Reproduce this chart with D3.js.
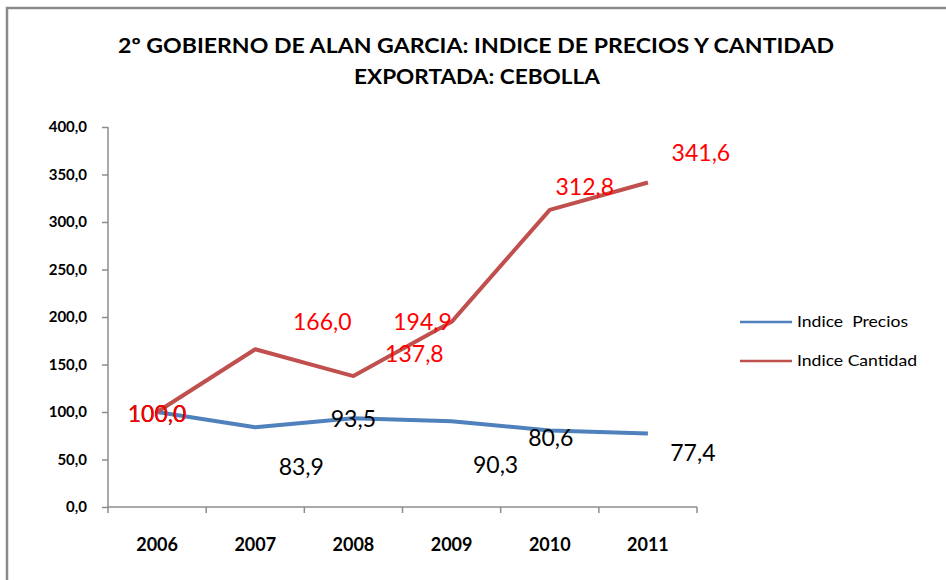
<!DOCTYPE html>
<html>
<head>
  <meta charset="utf-8">
  <script src="https://d3js.org/d3.v7.min.js"></script>
  <style>
    body { margin: 0; background: #fff; }
    svg { display: block; }
  </style>
</head>
<body>
<div id="chart"></div>
<script>

  var years = ['2006', '2007', '2008', '2009', '2010', '2011'];
  var precios = [100.0, 83.9, 93.5, 90.3, 80.6, 77.4];
  var cantidad = [100.0, 166.0, 137.8, 194.9, 312.8, 341.6];
  var yTicks = [0, 50, 100, 150, 200, 250, 300, 350, 400];
  var seriesNames = ['Indice  Precios', 'Indice Cantidad'];

  // where excel dropped the data labels, relative to each point
  var preciosLabelOff = [[0, 2], [46, 40], [0, 1], [44, 44], [1, 8], [45, 19]];
  var cantidadLabelOff = [[0, 2], [67, -27], [61, -22], [-29, 0], [35, -23], [53, -30]];

  var W = 946, H = 580;
  var svg = d3.select('#chart').append('svg')
    .attr('width', W)
    .attr('height', H);

  // outer frame (only top + left visible in the crop)
  svg.append('path')
    .attr('d', 'M7,' + H + 'V8H' + W)
    .attr('fill', 'none')
    .attr('stroke', '#8a8a8a')
    .attr('stroke-width', 2.5);

  svg.append('text')
    .attr('x', 476).attr('y', 53)
    .attr('text-anchor', 'middle')
    .style('font-family', 'Lato, sans-serif')
    .style('font-weight', 'bold')
    .style('font-size', '21px')
    .attr('textLength', 716)
    .attr('lengthAdjust', 'spacingAndGlyphs')
    .text('2º GOBIERNO DE ALAN GARCIA: INDICE DE PRECIOS Y CANTIDAD');

  svg.append('text')
    .attr('x', 477).attr('y', 84)
    .attr('text-anchor', 'middle')
    .style('font-family', 'Lato, sans-serif')
    .style('font-weight', 'bold')
    .style('font-size', '21px')
    .attr('textLength', 246)
    .attr('lengthAdjust', 'spacingAndGlyphs')
    .text('EXPORTADA: CEBOLLA');

  var x = d3.scaleBand().domain(years).range([108, 697]);
  var y = d3.scaleLinear().domain([0, 400]).range([507, 127]);
  var fmt = function(v) { return d3.format('.1f')(v).replace('.', ','); };

  var yAxis = svg.append('g')
    .attr('transform', 'translate(108,0)')
    .call(d3.axisLeft(y).tickValues(yTicks).tickSize(6).tickPadding(15).tickFormat(fmt));

  var xAxis = svg.append('g')
    .attr('transform', 'translate(0,507)')
    .call(d3.axisBottom(x).tickSize(0).tickPadding(31));

  // excel puts the x ticks between categories
  xAxis.selectAll('.between')
    .data(years.concat(['end']))
    .enter().append('line')
    .attr('x1', function(d, i) { return 108 + i * x.bandwidth(); })
    .attr('x2', function(d, i) { return 108 + i * x.bandwidth(); })
    .attr('y1', 0).attr('y2', 6);

  [yAxis, xAxis].forEach(function(a) {
    a.selectAll('path, line').attr('stroke', '#8c8c8c').attr('stroke-width', 1.5);
    a.select('.domain').attr('d', a === yAxis ? 'M0,127V507' : 'M108,0H697');
    a.selectAll('text')
      .style('font-family', 'Lato, sans-serif')
      .style('font-weight', 'bold')
      .style('font-size', a === yAxis ? '15px' : '18px')
      .attr('fill', '#000');
  });

  var cx = function(i) { return x(years[i]) + x.bandwidth() / 2; };
  var line = d3.line().x(function(d, i) { return cx(i); }).y(function(d) { return y(d); });

  var series = [
    { vals: precios, color: '#4f81bd', off: preciosLabelOff, labelColor: '#000' },
    { vals: cantidad, color: '#c0504d', off: cantidadLabelOff, labelColor: '#ff0000' }
  ];

  series.forEach(function(s) {
    svg.append('path')
      .datum(s.vals)
      .attr('d', line)
      .attr('fill', 'none')
      .attr('stroke', s.color)
      .attr('stroke-width', 4)
      .attr('stroke-linejoin', 'round');
  });

  series.forEach(function(s) {
    svg.selectAll(null)
      .data(s.vals)
      .enter().append('text')
      .attr('x', function(d, i) { return cx(i) + s.off[i][0]; })
      .attr('y', function(d, i) { return y(d) + s.off[i][1]; })
      .attr('dy', '0.35em')
      .attr('text-anchor', 'middle')
      .style('font-family', 'Lato, sans-serif')
      .style('font-size', '23px')
      .attr('fill', s.labelColor)
      .text(fmt);
  });

  var legend = svg.append('g').selectAll('g')
    .data(series)
    .enter().append('g')
    .attr('transform', function(d, i) { return 'translate(740,' + (322 + i * 39) + ')'; });

  legend.append('line')
    .attr('x1', 0).attr('x2', 52)
    .attr('stroke', function(d) { return d.color; })
    .attr('stroke-width', 2.5);

  legend.append('text')
    .attr('x', 57)
    .attr('dy', '0.35em')
    .style('font-family', 'Lato, sans-serif')
    .style('font-size', '15px')
    .style('white-space', 'pre')
    .attr('textLength', function(d, i) { return i === 0 ? 111 : 120; })
    .attr('lengthAdjust', 'spacingAndGlyphs')
    .attr('fill', '#000')
    .text(function(d, i) { return seriesNames[i]; });

</script>
</body>
</html>
